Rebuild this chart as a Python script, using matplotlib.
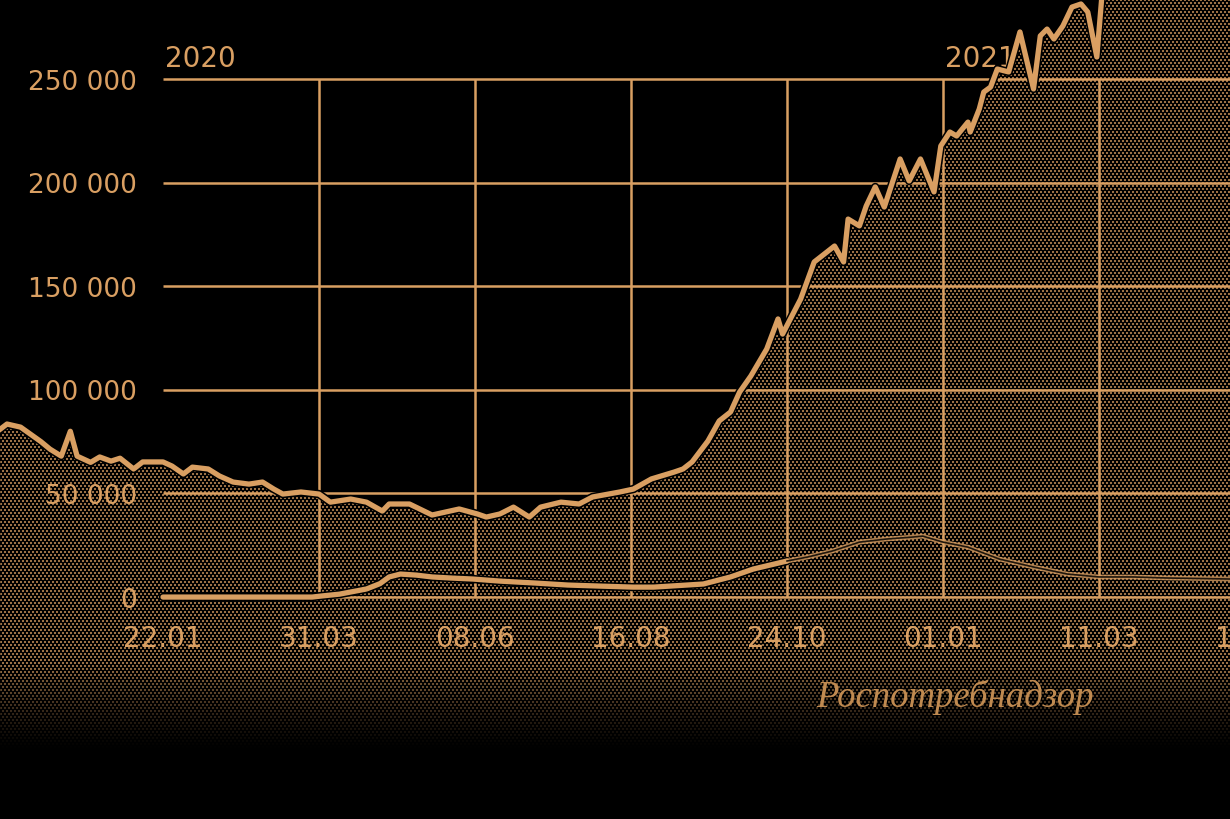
import numpy as np
import matplotlib
matplotlib.use('Agg')
import matplotlib.pyplot as plt
import matplotlib.patheffects as pe
from matplotlib.patches import Polygon
from matplotlib.colors import to_rgb

# days counted from 22.01.2020
main_day = [-72, -69, -63, -54, -50, -45, -41, -38, -32, -28, -23, -19, -13, -9,
            0, 4, 9, 13, 20, 25, 31, 38, 44, 49, 53, 61, 69, 74, 83, 90, 97, 100,
            109, 119, 131, 139, 143, 149, 155, 162, 167, 176, 184, 190, 202, 208,
            216, 226, 230, 234, 241, 246, 251, 255, 260, 267, 272, 274, 282, 288,
            297, 301, 303, 308, 311, 315, 319, 326, 330, 335, 341, 344, 348, 351,
            356, 357, 361, 363, 366, 369, 374, 379, 385, 388, 391, 394, 398, 402,
            406, 409, 413, 416, 420, 440, 472]
main_val = [81000, 83500, 82000, 75000, 71400, 68000, 80000, 68000, 65000, 67600,
            65600, 67000, 61800, 65200, 65200, 63200, 59400, 62700, 61800, 58400,
            55500, 54500, 55500, 52100, 49700, 50700, 49700, 45800, 47300, 45800,
            41500, 44900, 44900, 39600, 42500, 40100, 38600, 40100, 43400, 38600,
            43400, 45800, 44900, 48300, 50700, 52100, 57000, 60300, 61800, 65200,
            75300, 85000, 89300, 98900, 106700, 119700, 134200, 126900, 143800,
            161700, 169400, 161700, 182400, 179100, 188700, 197900, 188200, 211400,
            200800, 211400, 195500, 217700, 224400, 222500, 229200, 224400, 235500,
            243700, 246100, 254800, 253400, 272700, 245200, 270800, 274100, 269300,
            275600, 284700, 286200, 282300, 260600, 300000, 320000, 340000, 350000]

# second series, solid part and faded tail
low_day = [0, 66, 70, 78, 90, 96, 100, 105, 112, 119, 127, 137, 149, 164, 179,
           193, 208, 217, 239, 251, 261, 276]
low_val = [0, 0, 500, 1400, 3900, 6500, 9700, 11100, 10600, 9700, 9200, 8700,
           7700, 6800, 5800, 5300, 4800, 4800, 6300, 9700, 13500, 17400]
tail_day = [276, 285, 296, 308, 320, 332, 336, 345, 356, 370, 385, 400, 414, 429,
            444, 472]
tail_val = [17400, 19300, 22200, 26500, 28000, 29000, 29400, 26500, 24100, 18300,
            14500, 11100, 9700, 9700, 9200, 8700]

tick_day = [0, 69, 138, 207, 276, 345, 414, 483]
tick_lab = ['22.01', '31.03', '08.06', '16.08', '24.10', '01.01', '11.03', '19.05']
y_ticks = [0, 50000, 100000, 150000, 200000, 250000]
y_labs = ['0', '50 000', '100 000', '150 000', '200 000', '250 000']
years = ['2020', '2021']
year_day = [0, 345]

gold = '#d99f62'
x0, x1 = -72.1, 471.9
y0, y1 = -107100, 288600

fig = plt.figure(figsize=(12.3, 8.2), dpi=100, facecolor='black')
ax = fig.add_axes([0, 0, 1, 1])
ax.set_xlim(x0, x1)
ax.set_ylim(y0, y1)
ax.axis('off')

# stippled fill under the main line, fading out below the axis
H, W = 820, 1230
rr, cc = np.mgrid[0:H, 0:W]
dots = (rr % 3 < 2) & ((cc + 2 * ((rr // 3) % 2)) % 4 < 2)
yrow = y1 - (rr[:, 0] + 0.5) * (y1 - y0) / H
fade = np.clip((yrow + 74000) / 42000, 0, 1) ** 1.3
rgba = np.zeros((H, W, 4))
rgba[..., :3] = to_rgb(gold)
rgba[..., 3] = dots * fade[:, None] * 0.72
im = ax.imshow(rgba, extent=(x0, x1, y0, y1), origin='upper',
               interpolation='nearest', aspect='auto', zorder=1)
verts = np.column_stack([np.r_[main_day, main_day[-1], main_day[0]],
                         np.r_[main_val, y0, y0]])
poly = Polygon(verts, closed=True, fc='none', ec='none')
ax.add_patch(poly)
im.set_clip_path(poly)

# grid
ax.hlines(y_ticks, 0, x1, color=gold, lw=1.8, zorder=2)
ax.vlines(tick_day[1:], 0, 250000, color=gold, lw=1.8, zorder=2)

# labels
for v, s in zip(y_ticks, y_labs):
    ax.text(-11.5, v - 4600, s, color=gold, fontsize=19, ha='right', va='baseline',
            family='DejaVu Sans')
for d, s in zip(tick_day, tick_lab):
    ax.text(d, -23400, s, color=gold, fontsize=20, ha='center', va='baseline',
            family='DejaVu Sans', clip_on=False)
for d, s in zip(year_day, years):
    ax.text(d + 1, 256500, s, color=gold, fontsize=20, ha='left', va='baseline',
            family='DejaVu Sans')
ax.text(288.8, -52600, 'Роспотребнадзор', color='#c08a50', fontsize=26.5,
        family='Liberation Serif', style='italic', ha='left', va='baseline')

# lines
outline = [pe.Stroke(linewidth=6.0, foreground='black'), pe.Normal()]
ax.plot(low_day, low_val, color=gold, lw=3.8, solid_capstyle='round',
        path_effects=outline, zorder=3)
ax.plot(tail_day, tail_val, color=gold, lw=3.4, alpha=0.8, zorder=3)
ax.plot(tail_day, tail_val, color='#1e150b', lw=1.2, zorder=3)
ax.plot(main_day, main_val, color=gold, lw=3.8, solid_joinstyle='round',
        path_effects=outline, zorder=4)

plt.savefig('out.png', dpi=100, facecolor='black')
